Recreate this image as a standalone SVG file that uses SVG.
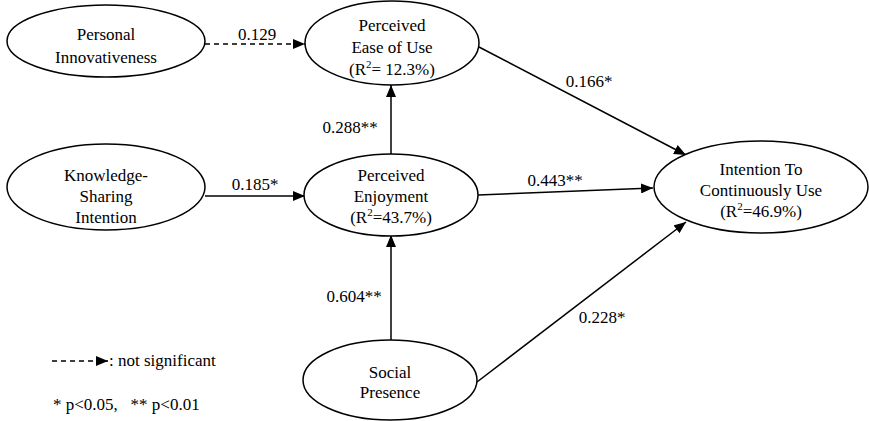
<svg xmlns="http://www.w3.org/2000/svg" width="869" height="421" viewBox="0 0 869 421" font-family="'Liberation Serif', 'Times New Roman', serif" font-size="17">
  <style>
    .node ellipse { fill: #ffffff; stroke: #000000; stroke-width: 1.5; }
    text { font-family: 'Liberation Serif', 'Times New Roman', serif; font-size: 17px; fill: #000000; }
    .c { text-anchor: middle; }
    .edge { fill: none; stroke: #000000; stroke-width: 1.5; }
    .dash { stroke-dasharray: 5 4; }
    .sup { font-size: 11px; }
  </style>
  <defs>
    <marker id="arrow" markerUnits="userSpaceOnUse" markerWidth="12" markerHeight="10" refX="12" refY="5" orient="auto">
      <path d="M0,0 L12,5 L0,10 z" fill="#000000"/>
    </marker>
  </defs>

  <rect width="869" height="421" fill="#ffffff"/>

  <!-- connectors -->
  <g id="connectors">
    <line class="edge dash" x1="205" y1="44" x2="305" y2="44" marker-end="url(#arrow)"/>
    <line class="edge" x1="205" y1="196" x2="305" y2="196" marker-end="url(#arrow)"/>
    <line class="edge" x1="391" y1="154" x2="391" y2="85" marker-end="url(#arrow)"/>
    <line class="edge" x1="391" y1="340" x2="391" y2="235" marker-end="url(#arrow)"/>
    <line class="edge" x1="479" y1="47" x2="686" y2="155" marker-end="url(#arrow)"/>
    <line class="edge" x1="478" y1="195" x2="653" y2="188" marker-end="url(#arrow)"/>
    <line class="edge" x1="477" y1="382" x2="686" y2="222" marker-end="url(#arrow)"/>

    <text class="c" x="257" y="40">0.129</text>
    <text class="c" x="255" y="190">0.185*</text>
    <text class="c" x="350" y="133">0.288**</text>
    <text class="c" x="354" y="302">0.604**</text>
    <text class="c" x="589" y="87">0.166*</text>
    <text class="c" x="555" y="186">0.443**</text>
    <text class="c" x="602" y="323">0.228*</text>
  </g>

  <!-- nodes -->
  <g id="personal-innovativeness" class="node">
    <ellipse cx="106" cy="41" rx="99" ry="36"/>
    <text class="c" x="106" y="40">Personal</text>
    <text class="c" x="106" y="63">Innovativeness</text>
  </g>

  <g id="perceived-ease-of-use" class="node">
    <ellipse cx="392" cy="43" rx="87" ry="42"/>
    <text class="c" x="392" y="31">Perceived</text>
    <text class="c" x="392" y="53">Ease of Use</text>
    <text class="c" x="392" y="75">(R<tspan class="sup" dy="-7">2</tspan><tspan dy="7">= 12.3%)</tspan></text>
  </g>

  <g id="knowledge-sharing-intention" class="node">
    <ellipse cx="106" cy="187" rx="99" ry="43"/>
    <text class="c" x="106" y="181">Knowledge-</text>
    <text class="c" x="106" y="202">Sharing</text>
    <text class="c" x="106" y="223">Intention</text>
  </g>

  <g id="perceived-enjoyment" class="node">
    <ellipse cx="391" cy="195" rx="87" ry="41"/>
    <text class="c" x="391" y="181">Perceived</text>
    <text class="c" x="391" y="202">Enjoyment</text>
    <text class="c" x="391" y="223">(R<tspan class="sup" dy="-7">2</tspan><tspan dy="7">=43.7%)</tspan></text>
  </g>

  <g id="social-presence" class="node">
    <ellipse cx="390" cy="380" rx="87" ry="40"/>
    <text class="c" x="390" y="378">Social</text>
    <text class="c" x="390" y="398">Presence</text>
  </g>

  <g id="intention-to-continuously-use" class="node">
    <ellipse cx="761" cy="187" rx="107" ry="46"/>
    <text class="c" x="761" y="175">Intention To</text>
    <text class="c" x="761" y="196">Continuously Use</text>
    <text class="c" x="761" y="217">(R<tspan class="sup" dy="-7">2</tspan><tspan dy="7">=46.9%)</tspan></text>
  </g>

  <!-- legend -->
  <g id="legend">
    <line class="edge dash" x1="52" y1="361" x2="108" y2="361" marker-end="url(#arrow)"/>
    <text x="109" y="366">: not significant</text>
    <text x="53" y="410" xml:space="preserve">* p&lt;0.05,   ** p&lt;0.01</text>
  </g>
</svg>
